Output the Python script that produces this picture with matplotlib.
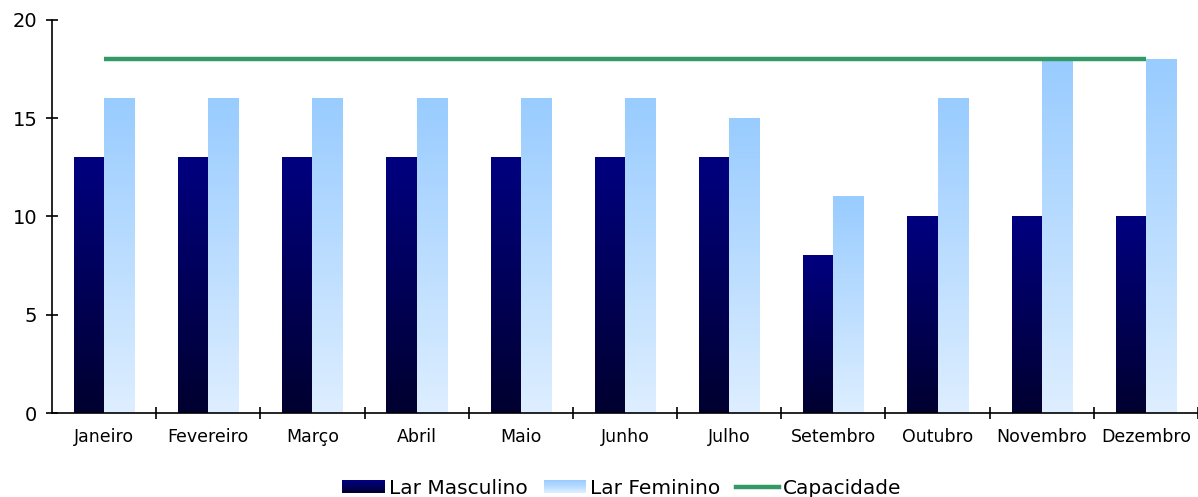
import matplotlib.pyplot as plt
import matplotlib.colors as mcolors
import numpy as np
from matplotlib.legend_handler import HandlerBase
from matplotlib.patches import Rectangle, Patch
from matplotlib.lines import Line2D

plt.rcParams['font.family'] = 'DejaVu Sans'

meses = ['Janeiro', 'Fevereiro', 'Março', 'Abril', 'Maio', 'Junho', 'Julho',
         'Setembro', 'Outubro', 'Novembro', 'Dezembro']
lar_masculino = [13, 13, 13, 13, 13, 13, 13, 8, 10, 10, 10]
lar_feminino = [16, 16, 16, 16, 16, 16, 15, 11, 16, 18, 18]
capacidade = [18] * len(meses)

# gradientes (topo -> base)
grad_masc = ('#000080', '#000030')
grad_fem = ('#99ccff', '#ddeeff')


def gradient_img(top, bottom, n=64):
    c1 = np.array(mcolors.to_rgb(top))
    c2 = np.array(mcolors.to_rgb(bottom))
    t = np.linspace(0, 1, n)[:, None]
    img = c1 * (1 - t) + c2 * t
    return img[:, None, :]


class GradientHandler(HandlerBase):
    def __init__(self, top, bottom):
        super().__init__()
        self.top, self.bottom = top, bottom

    def create_artists(self, legend, orig_handle, xdescent, ydescent,
                       width, height, fontsize, trans):
        arts = []
        n = 12
        c1 = np.array(mcolors.to_rgb(self.top))
        c2 = np.array(mcolors.to_rgb(self.bottom))
        for i in range(n):
            t = i / (n - 1)
            col = c2 * (1 - t) + c1 * t
            r = Rectangle((-xdescent, -ydescent + height * i / n), width, height / n + 0.3,
                          facecolor=col, edgecolor='none', transform=trans)
            arts.append(r)
        return arts


fig = plt.figure(figsize=(11.98, 4.97), dpi=100)
ax = fig.add_axes([0.0434, 0.169, 0.9566, 0.791])

x = np.arange(len(meses))
w = 0.29
img_m = gradient_img(*grad_masc)
img_f = gradient_img(*grad_fem)
for xi, m, f in zip(x, lar_masculino, lar_feminino):
    ax.imshow(img_m, extent=(xi - w, xi, 0, m), aspect='auto', zorder=2,
              interpolation='bilinear')
    ax.imshow(img_f, extent=(xi, xi + w, 0, f), aspect='auto', zorder=2,
              interpolation='bilinear')

ax.plot(x, capacidade, color='#339966', lw=3.2, zorder=3, solid_capstyle='butt')

ax.set_xlim(-0.5, len(meses) - 0.5)
ax.set_ylim(0, 20)
ax.set_yticks([0, 5, 10, 15, 20])
ax.set_xticks(x)
ax.set_xticklabels(meses, fontsize=12.5)
ax.set_xticks(np.arange(0.5, len(meses), 1), minor=True)
ax.tick_params(axis='x', which='major', length=0, pad=11)
ax.tick_params(axis='x', which='minor', direction='inout', length=9, width=1.2)
ax.tick_params(axis='y', direction='inout', length=9, width=1.2, labelsize=14, pad=6)
for s in ['top', 'right']:
    ax.spines[s].set_visible(False)
for s in ['left', 'bottom']:
    ax.spines[s].set_linewidth(1.2)

handles = [Patch(), Patch(), Line2D([], [], color='#339966', lw=3.2)]
labels = ['Lar Masculino', 'Lar Feminino', 'Capacidade']
leg = fig.legend(handles, labels, loc='lower center', bbox_to_anchor=(0.519, -0.038),
                 ncol=3, frameon=False, fontsize=14.5, handlelength=2.1,
                 handleheight=0.6, handletextpad=0.2, columnspacing=0.8,
                 handler_map={handles[0]: GradientHandler(*grad_masc),
                              handles[1]: GradientHandler(*grad_fem)})

fig.savefig('out.png', dpi=100)
